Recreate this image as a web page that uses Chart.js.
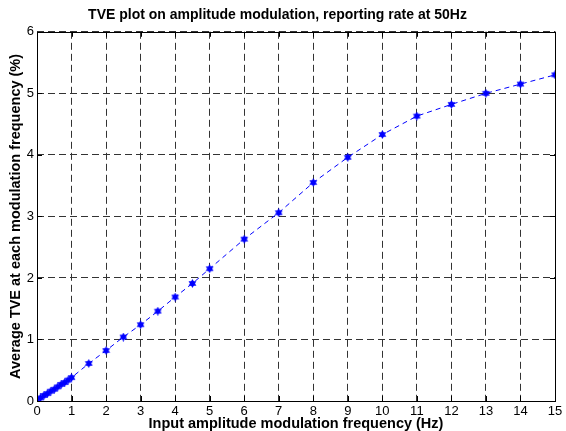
<!DOCTYPE html>
<html>
<head>
<meta charset="utf-8">
<script src="https://cdn.jsdelivr.net/npm/chart.js@4/dist/chart.umd.min.js"></script>
<style>
  html, body { margin: 0; padding: 0; background: #fff; }
  #wrap { width: 566px; height: 431px; }
</style>
</head>
<body>
<div id="wrap"><canvas id="tveChart" width="566" height="431"></canvas></div>
<script>
// Modulation frequency (Hz) and the average TVE (%)
const modFreq = [0, 0.1, 0.2, 0.3, 0.4, 0.5, 0.6, 0.7, 0.8, 0.9, 1,
                 1.5, 2, 2.5, 3, 3.5, 4, 4.5, 5, 6, 7, 8, 9, 10, 11, 12, 13, 14, 15];
const avgTve = [0.02, 0.05, 0.09, 0.12, 0.16, 0.19, 0.23, 0.27, 0.30, 0.34, 0.38,
                0.61, 0.82, 1.04, 1.24, 1.46, 1.69, 1.91, 2.15, 2.63, 3.06, 3.55, 3.96, 4.33, 4.63, 4.82, 5.00, 5.15, 5.30];
const xTicks = [0, 1, 2, 3, 4, 5, 6, 7, 8, 9, 10, 11, 12, 13, 14, 15];
const yTicks = [0, 1, 2, 3, 4, 5, 6];

const FONT = 'Arial, "Liberation Sans", Helvetica, sans-serif';

// MATLAB-like six point star marker
function hexagram(size, color) {
    const c = document.createElement('canvas');
    c.width = size; c.height = size;
    const g = c.getContext('2d');
    const r = size / 2;
    g.fillStyle = color;
    for (let k = 0; k < 2; k++) {
        g.beginPath();
        for (let i = 0; i < 3; i++) {
            const a = -Math.PI / 2 + k * Math.PI + i * 2 * Math.PI / 3;
            const px = r + r * Math.cos(a), py = r + r * Math.sin(a);
            if (i === 0) g.moveTo(px, py); else g.lineTo(px, py);
        }
        g.closePath();
        g.fill();
    }
    return c;
}
const marker = hexagram(9, '#0000ff');

// box around the axes plus the small inward ticks
const boxPlugin = {
    id: 'boxPlugin',
    afterDatasetsDraw(chart) {
        const { ctx, chartArea: a, scales } = chart;
        ctx.save();
        ctx.strokeStyle = '#000';
        ctx.lineWidth = 1;
        ctx.setLineDash([]);
        ctx.strokeRect(Math.round(a.left) + 0.5, Math.round(a.top) + 0.5,
            Math.round(a.right - a.left), Math.round(a.bottom - a.top));
        ctx.beginPath();
        xTicks.forEach(v => {
            const x = Math.round(scales.x.getPixelForValue(v)) + 0.5;
            ctx.moveTo(x, a.bottom); ctx.lineTo(x, a.bottom - 5);
            ctx.moveTo(x, a.top); ctx.lineTo(x, a.top + 5);
        });
        yTicks.forEach(v => {
            const y = Math.round(scales.y.getPixelForValue(v)) + 0.5;
            ctx.moveTo(a.left, y); ctx.lineTo(a.left + 5, y);
            ctx.moveTo(a.right, y); ctx.lineTo(a.right - 5, y);
        });
        ctx.stroke();
        ctx.restore();
    }
};

const ctx = document.getElementById('tveChart').getContext('2d');
new Chart(ctx, {
    type: 'scatter',
    data: {
        datasets: [{
            label: 'TVE',
            data: modFreq.map((f, i) => ({ x: f, y: avgTve[i] })),
            showLine: true,
            borderColor: '#0000ff',
            borderWidth: 1,
            borderDash: [5, 4],
            pointStyle: marker,
            pointRadius: 4,
            pointBackgroundColor: '#0000ff',
            pointBorderColor: '#0000ff',
            tension: 0
        }]
    },
    options: {
        responsive: false,
        animation: false,
        layout: { padding: { left: 0, right: 11, top: 0, bottom: 0 } },
        plugins: {
            legend: { display: false },
            tooltip: { enabled: false },
            title: {
                display: true,
                text: 'TVE plot on amplitude modulation, reporting rate at 50Hz',
                color: '#000',
                font: { family: FONT, size: 14, weight: 'bold' },
                padding: { top: 7, bottom: 8 }
            }
        },
        scales: {
            x: {
                type: 'linear',
                min: 0, max: 15,
                afterBuildTicks: s => { s.ticks = xTicks.map(v => ({ value: v })); },
                afterFit: s => { s.height = 30; },
                grid: { color: '#333', lineWidth: 1, drawTicks: false },
                border: { display: false, dash: [7, 4] },
                ticks: { color: '#000', font: { family: FONT, size: 13 }, padding: 3, maxRotation: 0 },
                title: {
                    display: true,
                    text: 'Input amplitude modulation frequency (Hz)',
                    color: '#000',
                    font: { family: FONT, size: 14.5, weight: 'bold' },
                    padding: { top: -4, bottom: -2 }
                }
            },
            y: {
                type: 'linear',
                min: 0, max: 6,
                afterBuildTicks: s => { s.ticks = yTicks.map(v => ({ value: v })); },
                afterFit: s => { s.width = 37; },
                grid: { color: '#333', lineWidth: 1, drawTicks: false },
                border: { display: false, dash: [7, 4] },
                ticks: { color: '#000', font: { family: FONT, size: 13 }, padding: 3 },
                title: {
                    display: true,
                    text: 'Average TVE at each modulation frequency (%)',
                    color: '#000',
                    font: { family: FONT, size: 14.5, weight: 'bold' },
                    padding: { top: 7, bottom: 0 }
                }
            }
        }
    },
    plugins: [boxPlugin]
});
</script>
</body>
</html>
